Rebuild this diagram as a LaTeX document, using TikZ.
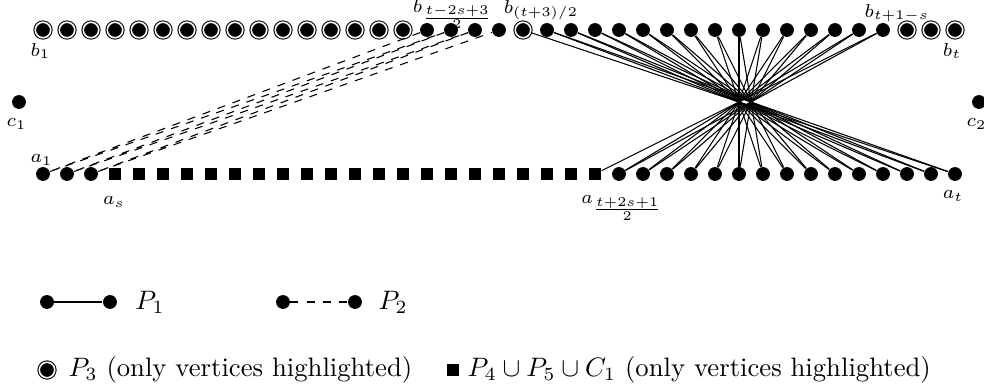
\documentclass[tikz,border=0pt]{standalone}
\usetikzlibrary{positioning}

\tikzset{
  vtx/.style={circle, fill=black, inner sep=0pt, minimum size=5.2pt},
  hvtx/.style={circle, fill=black, draw=black, double=white, double distance=0.6pt, inner sep=0pt, minimum size=5.8pt},
  svtx/.style={rectangle, fill=black, inner sep=0pt, minimum size=4.6pt},
  lbl/.style={font=\scriptsize, inner sep=0pt},
}

\begin{document}
\begin{tikzpicture}[x=0.316cm, y=0.316cm]
\useasboundingbox (-0.792,-8.958) rectangle (40.208,7.25);

% top row b_1 ... b_t
\foreach \i in {1,...,16} \node[hvtx] (b\i) at (\i,6) {};
\foreach \i in {17,...,20} \node[vtx] (b\i) at (\i,6) {};
\node[hvtx] (b21) at (21,6) {};
\foreach \i in {22,...,36} \node[vtx] (b\i) at (\i,6) {};
\foreach \i in {37,...,39} \node[hvtx] (b\i) at (\i,6) {};

% bottom row a_1 ... a_t
\foreach \i in {1,...,3} \node[vtx] (a\i) at (\i,0) {};
\foreach \i in {4,...,24} \node[svtx] (a\i) at (\i,0) {};
\foreach \i in {25,...,39} \node[vtx] (a\i) at (\i,0) {};

\node[vtx] (c1) at (0,3) {};
\node[vtx] (c2) at (40,3) {};

% P1
\foreach \i [evaluate=\i as \j using {int(60-\i)}] in {21,...,36} \draw (b\i) -- (a\j);
\foreach \i [evaluate=\i as \j using {int(61-\i)}] in {22,...,36} \draw (b\i) -- (a\j);

% P2
\foreach \j/\i/\k in {1/17/18, 2/18/19, 3/19/20} \draw[dashed] (b\i) -- (a\j) -- (b\k);

\node[lbl] (lb1) at (0.896,5.125) {$b_1$};
\node[lbl] (la1) at (0.9375,0.583) {$a_1$};
\node[lbl] (las) at (3.958,-1.167) {$a_s$};
\node[lbl] (lamid) at (25.125,-1.417) {$a_{\frac{t+2s+1}{2}}$};
\node[lbl] (lat) at (38.92,-0.917) {$a_t$};
\node[lbl] (lbt) at (38.875,5.125) {$b_t$};
\node[lbl] (lbs) at (36.58,6.708) {$b_{t+1-s}$};
\node[lbl] (lbmid) at (21.75,6.833) {$b_{(t+3)/2}$};
\node[lbl] (lbq) at (18.08,6.667) {$b_{\frac{t-2s+3}{2}}$};
\node[lbl] (lc1) at (-0.104,2.083) {$c_1$};
\node[lbl] (lc2) at (39.9,2.083) {$c_2$};

% legend
\node[vtx] (p1a) at (1.167,-5.333) {};
\node[vtx] (p1b) at (3.79,-5.333) {};
\draw (p1a) -- (p1b);
\node[anchor=west, inner sep=0pt] (tp1) at (4.83,-5.333) {$P_1$};

\node[vtx] (p2a) at (11,-5.333) {};
\node[vtx] (p2b) at (14,-5.333) {};
\draw[dashed] (p2a) -- (p2b);
\node[anchor=west, inner sep=0pt] (tp2) at (14.96,-5.333) {$P_2$};

\node[hvtx] (p3) at (1.167,-8.167) {};
\node[anchor=west, inner sep=0pt] (tp3) at (2.04,-8.167) {$P_3$ (only vertices highlighted)};
\node[svtx] (p4) at (18.08,-8.167) {};
\node[anchor=west, inner sep=0pt] (tp4) at (18.67,-8.167) {$P_4\cup P_5\cup C_1$ (only vertices highlighted)};

\end{tikzpicture}
\end{document}
